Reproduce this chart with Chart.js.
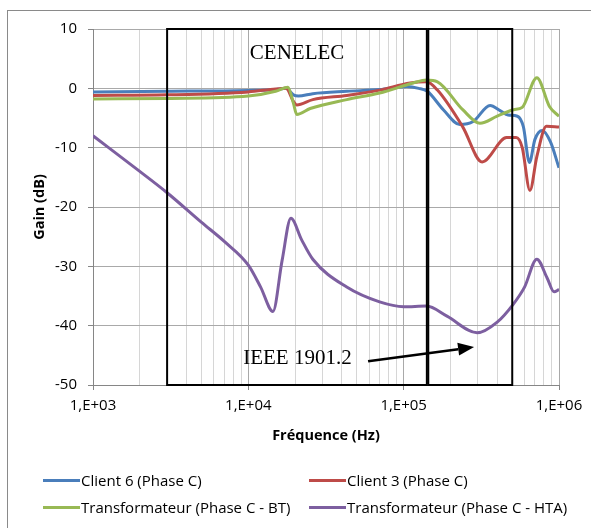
<!DOCTYPE html>
<html>
<head>
<meta charset="utf-8">
<script src="https://cdn.jsdelivr.net/npm/chart.js@4.4.1/dist/chart.umd.min.js"></script>
<style>
  html, body { margin: 0; padding: 0; background: #fff; }
  #wrap { position: relative; width: 591px; height: 528px; overflow: hidden; }
  #frame { position: absolute; left: 7px; top: 10px; right: -5px; bottom: -5px;
           border-left: 1px solid #8a8a8a; border-top: 1px solid #8a8a8a; }
  canvas { position: absolute; left: 0; top: 0; }
  .lg { position: absolute; height: 20px; display: flex; align-items: center;
        font: 15px "Open Sans", sans-serif; color: #000; white-space: nowrap; }
  .lg i { display: inline-block; width: 37px; height: 3px; margin-right: 1px; }
</style>
</head>
<body>
<div id="wrap">
  <div id="frame"></div>
  <canvas id="c" width="591" height="528"></canvas>
  <div id="legend"></div>
</div>
<script>
// Frequency response: gain (dB) versus frequency (Hz)
const seriesNames = [
  'Client 6 (Phase C)',
  'Client 3 (Phase C)',
  'Transformateur (Phase C - BT)',
  'Transformateur (Phase C - HTA)'
];
const seriesColors = ['#4a7ebb', '#be4b48', '#98b954', '#7d5fa0'];

const client6Freq = [1e3, 3e3, 1e4, 1.5e4, 1.75e4, 1.95e4, 2.1e4, 2.6e4, 4.3e4, 7e4, 1.05e5, 1.25e5, 1.42e5, 1.8e5, 2.3e5, 2.8e5, 3.6e5, 4.2e5, 4.7e5, 5.4e5, 5.9e5, 6.45e5, 7e5, 7.8e5, 8.8e5, 1e6];
const client6Gain = [-0.6, -0.5, -0.35, -0.2, 0, -1.1, -1.3, -0.9, -0.5, -0.2, 0.3, 0.0, -0.5, -3.6, -6.1, -5.6, -2.9, -3.8, -4.5, -4.7, -6.5, -12.5, -8.6, -7.1, -9, -13.4];

const client3Freq = [1e3, 3e3, 1e4, 1.5e4, 1.75e4, 1.95e4, 2.05e4, 2.6e4, 4.3e4, 7e4, 1.1e5, 1.4e5, 1.65e5, 2.4e5, 3.2e5, 4.6e5, 5.3e5, 5.8e5, 6.5e5, 7.2e5, 8.3e5, 1e6];
const client3Gain = [-1.2, -1.1, -0.6, -0.1, 0, -2.2, -2.8, -1.9, -1.2, -0.3, 0.9, 1.1, -0.3, -6.5, -12.4, -8.3, -8.3, -10, -17.2, -11.5, -6.4, -6.5];

const transfoBTFreq = [1e3, 3e3, 1e4, 1.5e4, 1.8e4, 1.95e4, 2.05e4, 2.5e4, 4.3e4, 7e4, 1.15e5, 1.4e5, 1.65e5, 2.4e5, 3.1e5, 4e5, 5.1e5, 5.8e5, 7.2e5, 8.7e5, 1e6];
const transfoBTGain = [-1.8, -1.7, -1.3, -0.5, 0.2, -2.5, -4.4, -3.4, -1.9, -0.8, 0.9, 1.4, 1.1, -3.6, -5.9, -4.7, -3.6, -3.2, 1.8, -3.1, -4.7];

const transfoHTAFreq = [1e3, 2e3, 3e3, 5e3, 7e3, 1e4, 1.2e4, 1.44e4, 1.65e4, 1.88e4, 2.2e4, 2.6e4, 4.3e4, 7e4, 1e5, 1.4e5, 1.9e5, 2.97e5, 4e5, 5.07e5, 6e5, 7.2e5, 8.4e5, 9.3e5, 1e6];
const transfoHTAGain = [-8, -14, -17.6, -22.6, -25.8, -29.8, -33.5, -37.6, -29, -21.9, -25.5, -28.8, -33.5, -36, -36.8, -36.7, -38.4, -41.2, -39.4, -36.4, -33.5, -28.8, -32, -34.3, -33.9];

// Frequency bands outlined on the plot
const bandNames = ['CENELEC', 'IEEE 1901.2'];
const bandStart = [3e3, 1.44e5];
const bandEnd = [1.41e5, 5e5];
const bandGainTop = 10;
const bandGainBottom = -50;

// Axis ticks
const xTickValues = [];
[1e3, 1e4, 1e5].forEach(d => { for (let m = 1; m <= 9; m++) xTickValues.push(m * d); });
xTickValues.push(1e6);
const yMin = -50, yMax = 10, yStep = 10;

const isDecade = v => Math.abs(Math.log10(v) - Math.round(Math.log10(v))) < 1e-9;
const sciLabel = v => '1,E+' + String(Math.round(Math.log10(v))).padStart(2, '0');

const freqs = [client6Freq, client3Freq, transfoBTFreq, transfoHTAFreq];
const gains = [client6Gain, client3Gain, transfoBTGain, transfoHTAGain];

const datasets = seriesNames.map((name, i) => ({
  label: name,
  data: freqs[i].map((f, k) => ({ x: f, y: gains[i][k] })),
  borderColor: seriesColors[i],
  backgroundColor: seriesColors[i],
  borderWidth: 3,
  pointRadius: 0,
  fill: false,
  cubicInterpolationMode: 'monotone',
  order: seriesNames.length - i
}));

const uiFont = '"Open Sans", sans-serif';
const uiSize = 15;
const titleSize = 14.5;

// Band rectangles, their captions and the pointer arrow
const bandsPlugin = {
  id: 'bands',
  afterDatasetsDraw(chart) {
    const { ctx, scales: { x, y } } = chart;
    ctx.save();
    ctx.strokeStyle = '#000';
    ctx.lineWidth = 2;
    bandStart.forEach((s, i) => {
      const x0 = x.getPixelForValue(s), x1 = x.getPixelForValue(bandEnd[i]);
      const y0 = y.getPixelForValue(bandGainTop), y1 = y.getPixelForValue(bandGainBottom);
      ctx.strokeRect(x0, y0, x1 - x0, y1 - y0);
    });

    ctx.fillStyle = '#000';
    ctx.font = '21px "Liberation Serif", "Times New Roman", serif';
    ctx.textAlign = 'center';
    ctx.textBaseline = 'middle';
    ctx.fillText(bandNames[0], x.getPixelForValue(2.06e4), y.getPixelForValue(5.9));
    ctx.fillText(bandNames[1], x.getPixelForValue(2.07e4), y.getPixelForValue(-45.6));

    // arrow from the IEEE caption towards the HTA trough
    const ax0 = x.getPixelForValue(5.9e4), ay0 = y.getPixelForValue(-46.0);
    const ax1 = x.getPixelForValue(2.84e5), ay1 = y.getPixelForValue(-43.6);
    const ang = Math.atan2(ay1 - ay0, ax1 - ax0);
    const headLen = 16, headHalf = 6.5;
    const bx = ax1 - headLen * Math.cos(ang), by = ay1 - headLen * Math.sin(ang);
    ctx.lineWidth = 2.5;
    ctx.beginPath();
    ctx.moveTo(ax0, ay0);
    ctx.lineTo(bx, by);
    ctx.stroke();
    ctx.beginPath();
    ctx.moveTo(ax1, ay1);
    ctx.lineTo(bx + headHalf * Math.sin(ang), by - headHalf * Math.cos(ang));
    ctx.lineTo(bx - headHalf * Math.sin(ang), by + headHalf * Math.cos(ang));
    ctx.closePath();
    ctx.fill();
    ctx.restore();
  }
};

const chart = new Chart(document.getElementById('c'), {
  type: 'line',
  data: { datasets },
  plugins: [bandsPlugin],
  options: {
    responsive: false,
    animation: false,
    events: [],
    layout: { padding: { left: 0, top: 29, right: 32, bottom: 83 } },
    plugins: { legend: { display: false }, tooltip: { enabled: false } },
    scales: {
      x: {
        type: 'logarithmic',
        min: 1e3,
        max: 1e6,
        afterBuildTicks(scale) {
          scale.ticks = xTickValues.map(v => ({ value: v, major: isDecade(v) }));
        },
        afterFit(scale) { scale.height = 60; },
        ticks: {
          autoSkip: false,
          maxRotation: 0,
          minRotation: 0,
          padding: 7,
          color: '#000',
          font: { family: uiFont, size: uiSize },
          callback: v => isDecade(v) ? sciLabel(v) : ''
        },
        grid: {
          color: c => (c.tick && isDecade(c.tick.value)) ? '#a9a9a9' : '#d6d6d6',
          tickColor: c => (c.tick && isDecade(c.tick.value)) ? '#868686' : 'rgba(0,0,0,0)',
          tickLength: 5,
          lineWidth: 1
        },
        border: { color: '#868686' },
        title: {
          display: true,
          text: 'Fréquence (Hz)',
          color: '#000',
          font: { family: uiFont, size: titleSize, weight: 'bold' },
          padding: { top: 0, bottom: 0 }
        }
      },
      y: {
        min: yMin,
        max: yMax,
        afterFit(scale) { scale.width = 93; },
        ticks: {
          stepSize: yStep,
          padding: 11,
          color: '#000',
          font: { family: uiFont, size: uiSize }
        },
        grid: { color: '#a9a9a9', tickColor: '#868686', tickLength: 5 },
        border: { color: '#868686' },
        title: {
          display: true,
          text: 'Gain (dB)',
          color: '#000',
          font: { family: uiFont, size: titleSize, weight: 'bold' },
          padding: { top: 31, bottom: 0 }
        }
      }
    }
  }
});

// Two-column legend below the chart
const legendCols = [43, 309];
const legendRows = [470, 497];
const legendEl = document.getElementById('legend');
chart.data.datasets.forEach((ds, i) => {
  const item = document.createElement('div');
  item.className = 'lg';
  item.style.left = legendCols[i % 2] + 'px';
  item.style.top = legendRows[Math.floor(i / 2)] + 'px';
  const swatch = document.createElement('i');
  swatch.style.background = ds.borderColor;
  item.appendChild(swatch);
  item.appendChild(document.createTextNode(ds.label));
  legendEl.appendChild(item);
});
</script>
</body>
</html>
